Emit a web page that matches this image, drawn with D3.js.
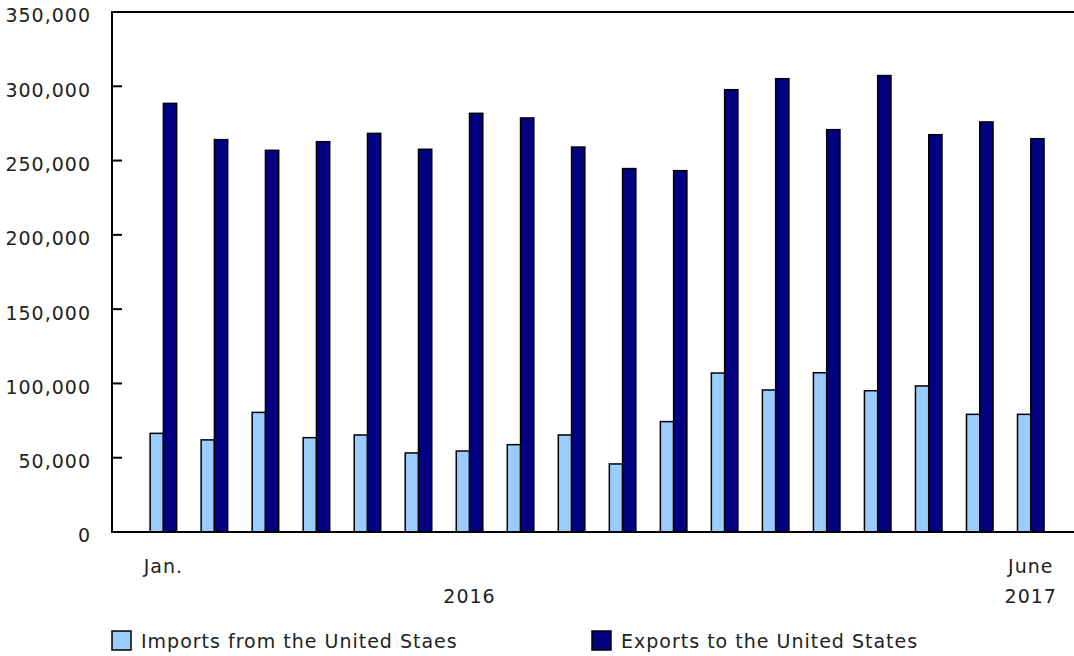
<!DOCTYPE html>
<html>
<head>
<meta charset="utf-8">
<script src="https://cdn.jsdelivr.net/npm/d3@7"></script>
<style>
    body { margin: 0; background: #fff; }
    svg { display: block; font-family: "DejaVu Sans", Verdana, sans-serif; }
    svg text { font-size: 19px; letter-spacing: 1px; fill: #222; }
</style>
</head>
<body>
<svg id="chart"></svg>
<script>
// Data (millions of dollars), Jan. 2016 to June 2017
var months = ['Jan.', 'Feb.', 'Mar.', 'Apr.', 'May', 'June', 'July', 'Aug.', 'Sept.',
    'Oct.', 'Nov.', 'Dec.', 'Jan.', 'Feb.', 'Mar.', 'Apr.', 'May', 'June'];
var imports = [66400, 62000, 80500, 63500, 65300, 53200, 54500, 58800, 65300,
    45800, 74300, 107000, 95600, 107200, 95100, 98300, 79200, 79200];
var exports = [288500, 264100, 256900, 262700, 268300, 257600, 281800, 278700, 259100,
    244600, 243200, 297700, 305100, 270800, 307200, 267400, 276000, 264700];
var seriesNames = ['Imports from the United Staes', 'Exports to the United States'];
var seriesColors = ['#99ccff', '#000080'];
var yTicks = [0, 50000, 100000, 150000, 200000, 250000, 300000, 350000];
var xLabels = [
    { index: 0, text: 'Jan.', row: 0 },
    { index: 17, text: 'June', row: 0 },
    { index: 6, text: '2016', row: 1 },
    { index: 17, text: '2017', row: 1 }
];

var width = 1074;
var height = 656;
var margin = { top: 12, right: 0, bottom: 124, left: 112 };
var plotBottom = height - margin.bottom;

var svg = d3.select('#chart')
    .attr('width', width)
    .attr('height', height)
    .attr('viewBox', `0 0 ${width} ${height}`);

var x = d3.scaleBand()
    .domain(d3.range(months.length))
    .range([margin.left, width - margin.right])
    .paddingInner(0.48)
    .paddingOuter(0.667)
    .align(0.56);

var xSeries = d3.scaleBand()
    .domain([0, 1])
    .range([0, x.bandwidth()]);

var y = d3.scaleLinear()
    .domain([0, 350000])
    .range([plotBottom, margin.top]);

// bars
var rows = months.map((m, i) => [imports[i], exports[i]]);

var groups = svg.append('g')
    .selectAll('g')
    .data(rows)
    .join('g')
    .attr('transform', (d, i) => `translate(${x(i)},0)`);

groups.selectAll('rect')
    .data(d => d)
    .join('rect')
    .attr('x', (d, j) => xSeries(j))
    .attr('width', xSeries.bandwidth())
    .attr('y', d => y(d))
    .attr('height', d => y(0) - y(d))
    .attr('fill', (d, j) => seriesColors[j])
    .attr('stroke', '#000')
    .attr('stroke-width', 1.5);

// frame: left, top and bottom lines
svg.append('path')
    .attr('d', `M${width},${margin.top}H${margin.left}V${plotBottom}H${width}`)
    .attr('stroke', '#000')
    .attr('stroke-width', 2)
    .attr('fill', 'none');

// y axis ticks and labels
var yAxis = svg.append('g');

yAxis.selectAll('line')
    .data(yTicks)
    .join('line')
    .attr('x1', margin.left)
    .attr('x2', margin.left + 10)
    .attr('y1', d => y(d))
    .attr('y2', d => y(d))
    .attr('stroke', '#000')
    .attr('stroke-width', 2);

yAxis.selectAll('text')
    .data(yTicks)
    .join('text')
    .attr('x', 91)
    .attr('y', d => y(d))
    .attr('dy', '0.55em')
    .attr('text-anchor', 'end')
    .text(d => d3.format(',')(d));

// x labels
svg.append('g')
    .selectAll('text')
    .data(xLabels)
    .join('text')
    .attr('x', d => x(d.index) + x.bandwidth() / 2)
    .attr('y', d => 573 + d.row * 30)
    .attr('text-anchor', 'middle')
    .text(d => d.text);

// legend
var legendX = [112, 592];
var legend = svg.append('g')
    .selectAll('g')
    .data(seriesNames)
    .join('g')
    .attr('transform', (d, i) => `translate(${legendX[i]},631)`);

legend.append('rect')
    .attr('width', 19)
    .attr('height', 19)
    .attr('fill', (d, i) => seriesColors[i])
    .attr('stroke', '#000')
    .attr('stroke-width', 1.5);

legend.append('text')
    .attr('x', 29)
    .attr('y', 17)
    .text(d => d);
</script>
</body>
</html>
